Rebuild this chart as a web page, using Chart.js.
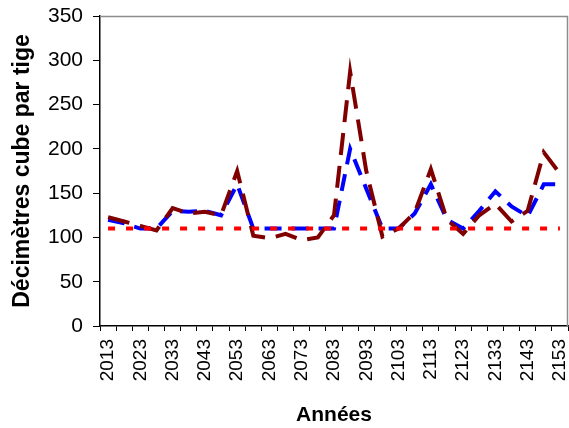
<!DOCTYPE html>
<html>
<head>
<meta charset="utf-8">
<script src="https://cdn.jsdelivr.net/npm/chart.js@4"></script>
<style>
  html, body { margin: 0; padding: 0; background: #fff; }
  #chartBox { width: 569px; height: 428px; }
</style>
</head>
<body>
<div id="chartBox"><canvas id="volumeChart" width="569" height="428"></canvas></div>
<script>
// années (pas de 5 ans), une étiquette sur deux affichée
const years = [2013, 2018, 2023, 2028, 2033, 2038, 2043, 2048, 2053, 2058,
               2063, 2068, 2073, 2078, 2083, 2088, 2093, 2098, 2103, 2108,
               2113, 2118, 2123, 2128, 2133, 2138, 2143, 2148, 2153];

// seuil (pointillé rouge)
const seuil = [110, 110, 110, 110, 110, 110, 110, 110, 110, 110,
               110, 110, 110, 110, 110, 110, 110, 110, 110, 110,
               110, 110, 110, 110, 110, 110, 110, 110, 110];

// série bordeaux (tirets longs)
const serieBordeaux = [123, 118, 113, 108, 133, 127, 129, 125, 175, 102,
                       99, 104, 97, 100, 125, 287, 175, 101, 110, 128,
                       177, 120, 104, 125, 138, 118, 130, 196, 172];

// série bleue (tirets)
const serieBleue = [120, 116, 110, 110, 130, 129, 130, 125, 160, 110,
                    110, 110, 110, 110, 110, 200, 155, 110, 110, 127,
                    160, 120, 110, 130, 152, 135, 124, 160, 160];

const yTicks = [0, 50, 100, 150, 200, 250, 300, 350];

const FONT = '"Liberation Sans", Arial, sans-serif';

// cadre gris en haut et à droite de la zone de tracé
const frameTop = {
    id: 'frameTop',
    beforeDatasetsDraw(chart) {
        const { ctx, chartArea: a } = chart;
        ctx.save();
        ctx.strokeStyle = '#8c8c8c';
        ctx.lineWidth = 1.5;
        ctx.beginPath();
        ctx.moveTo(a.left, a.top + 0.5);
        ctx.lineTo(a.right - 0.5, a.top + 0.5);
        ctx.lineTo(a.right - 0.5, a.bottom);
        ctx.stroke();
        ctx.restore();
    }
};

const ctx = document.getElementById('volumeChart').getContext('2d');
new Chart(ctx, {
    type: 'line',
    data: {
        labels: years,
        datasets: [
            {
                label: 'Seuil',
                data: seuil,
                borderColor: '#ff0000',
                borderWidth: 4,
                borderDash: [7, 11],
                borderCapStyle: 'butt',
                pointRadius: 0,
                tension: 0
            },
            {
                label: 'Bordeaux',
                data: serieBordeaux,
                borderColor: '#800000',
                borderWidth: 4,
                borderDash: [22, 11],
                borderCapStyle: 'butt',
                pointRadius: 0,
                tension: 0
            },
            {
                label: 'Bleue',
                data: serieBleue,
                borderColor: '#0000ff',
                borderWidth: 4,
                borderDash: [17, 10],
                borderCapStyle: 'butt',
                pointRadius: 0,
                tension: 0
            }
        ]
    },
    options: {
        responsive: false,
        animation: false,
        layout: { padding: { top: 16, right: 1, left: 0, bottom: 0 } },
        plugins: {
            legend: { display: false },
            tooltip: { enabled: false }
        },
        scales: {
            x: {
                type: 'category',
                offset: true,
                grid: {
                    offset: true,
                    drawOnChartArea: false,
                    drawTicks: true,
                    tickLength: 5,
                    color: '#000'
                },
                border: { color: '#000', width: 1.5 },
                ticks: {
                    autoSkip: false,
                    maxRotation: 90,
                    minRotation: 90,
                    padding: 8,
                    color: '#000',
                    font: { family: FONT, size: 19 },
                    callback: function(value, index) {
                        return index % 2 === 0 ? this.getLabelForValue(value) : '';
                    }
                },
                title: {
                    display: true,
                    text: 'Années',
                    color: '#000',
                    font: { family: FONT, size: 21, weight: 'bold' },
                    padding: { top: 4, bottom: 0 }
                },
                afterFit: (scale) => {
                    scale.height = 102;
                    scale.paddingLeft = 0;
                    scale.paddingRight = 0;
                }
            },
            y: {
                min: 0,
                max: 350,
                afterBuildTicks: (scale) => { scale.ticks = yTicks.map(v => ({ value: v })); },
                grid: {
                    drawOnChartArea: false,
                    drawTicks: true,
                    tickLength: 7,
                    color: '#000'
                },
                border: { color: '#000', width: 1.5 },
                ticks: {
                    padding: 10,
                    color: '#000',
                    font: { family: FONT, size: 21 }
                },
                title: {
                    display: true,
                    text: 'Décimètres cube par tige',
                    color: '#000',
                    font: { family: FONT, size: 23, weight: 'bold' },
                    padding: { top: 9, bottom: 0 }
                },
                afterFit: (scale) => {
                    scale.width = 100;
                    scale.paddingTop = 0;
                    scale.paddingBottom = 0;
                }
            }
        }
    },
    plugins: [frameTop]
});
</script>
</body>
</html>
